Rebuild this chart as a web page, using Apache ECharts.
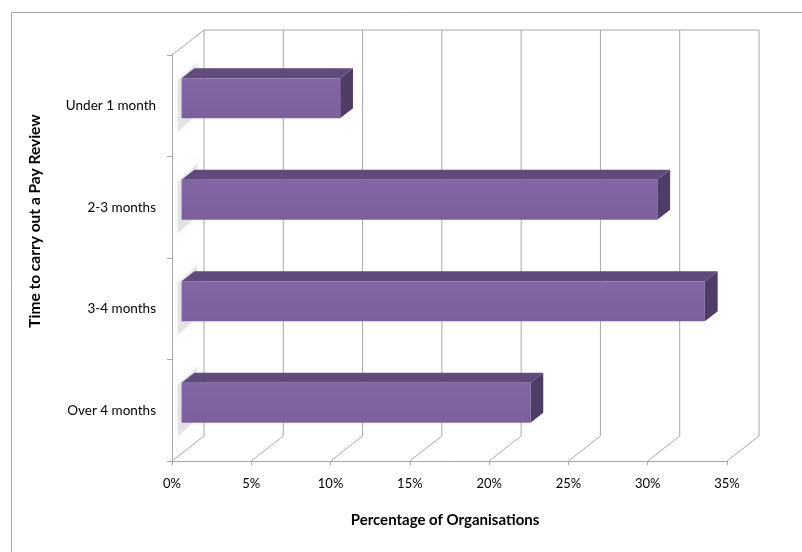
<!DOCTYPE html>
<html>
<head>
<meta charset="utf-8">
<script src="https://cdn.jsdelivr.net/npm/echarts@6/dist/echarts.min.js"></script>
<style>
html,body{margin:0;padding:0;background:#fff;}
#chart{width:802px;height:552px;}
</style>
</head>
<body>
<div id="chart"></div>
<script>
var categories = ['Under 1 month', '2-3 months', '3-4 months', 'Over 4 months'];
var values = [10, 30, 33, 22];
var xTicks = [0, 5, 10, 15, 20, 25, 30, 35];
var xTitle = 'Percentage of Organisations';
var yTitle = 'Time to carry out a Pay Review';

var DX = 32, DY = -25;           // floor depth offset
var BF = 0.3, BB = 0.7;          // bar front/back depth fraction
var BAR_H = 40;
var FONT = 'Lato, "Open Sans", sans-serif';
var GRID_C = '#a8a8a8';

var chart = echarts.init(document.getElementById('chart'), null, {renderer: 'canvas'});

function frameItem(params, api) {
  var cs = params.coordSys;
  var v = api.value(0);
  var xf = api.coord([v, 0])[0];
  var yb = cs.y + cs.height;
  var yt = cs.y;
  var children = [];
  var ls = {stroke: GRID_C, lineWidth: 1};
  children.push({type: 'line', shape: {x1: xf, y1: yb, x2: xf + DX, y2: yb + DY}, style: ls});
  children.push({type: 'line', shape: {x1: xf + DX, y1: yb + DY, x2: xf + DX, y2: yt + DY}, style: ls});
  if (v === xTicks[0]) {
    var xe = api.coord([xTicks[xTicks.length - 1], 0])[0];
    children.push({type: 'line', shape: {x1: xf, y1: yt, x2: xf + DX, y2: yt + DY}, style: ls});
    children.push({type: 'line', shape: {x1: xf + DX, y1: yt + DY, x2: xe + DX, y2: yt + DY}, style: ls});
  }
  return {type: 'group', children: children};
}

function barItem(params, api) {
  var cat = api.value(0);
  var v = api.value(1);
  var p0 = api.coord([0, cat]);
  var p1 = api.coord([v, cat]);
  var fx = DX * BF, fy = DY * BF;
  var bx = DX * (BB - BF), by = DY * (BB - BF);
  var x0 = p0[0] + fx, x1 = p1[0] + fx;
  var yc = p0[1] + fy;
  var yT = yc - BAR_H / 2, yB = yc + BAR_H / 2;
  return {
    type: 'group',
    children: [
      {type: 'polygon', shape: {points: [[x0 - 4, yT + 2], [x0 + bx + 3, yT + by - 6], [x0 + bx + 3, yB + by + 6], [x0 - 4, yB + 14]]},
        style: {fill: 'rgba(0,0,0,0.09)', shadowBlur: 10, shadowColor: 'rgba(0,0,0,0.3)'}},
      {type: 'polygon', shape: {points: [[x0, yT], [x1, yT], [x1 + bx, yT + by], [x0 + bx, yT + by]]},
        style: {fill: '#604b7c'}},
      {type: 'polygon', shape: {points: [[x1, yT], [x1 + bx, yT + by], [x1 + bx, yB + by], [x1, yB]]},
        style: {fill: '#4f3d67'}},
      {type: 'rect', shape: {x: x0, y: yT, width: x1 - x0, height: BAR_H},
        style: {fill: new echarts.graphic.LinearGradient(0, 0, 0, 1, [
          {offset: 0, color: '#8367a5'}, {offset: 1, color: '#7c609e'}])}}
    ]
  };
}

var option = {
  backgroundColor: '#ffffff',
  animation: false,
  grid: {left: 172, right: 75, top: 55, bottom: 91, containLabel: false},
  xAxis: {
    type: 'value', min: 0, max: 35, interval: 5,
    axisLine: {show: true, lineStyle: {color: GRID_C}},
    axisTick: {show: true, length: 4, lineStyle: {color: GRID_C}},
    splitLine: {show: false},
    axisLabel: {formatter: '{value}%', color: '#000', fontFamily: FONT, fontSize: 13, margin: 16}
  },
  yAxis: {
    type: 'category', data: categories, inverse: true,
    axisLine: {show: true, lineStyle: {color: GRID_C}},
    axisTick: {show: true, length: 5, lineStyle: {color: GRID_C}},
    axisLabel: {color: '#000', fontFamily: FONT, fontSize: 13.5, margin: 16}
  },
  graphic: [
    {type: 'rect', left: 9, top: 10, shape: {width: 1000, height: 1000}, style: {fill: 'none', stroke: '#a6a6a6', lineWidth: 1}, silent: true, z: -10},
    {type: 'text', x: 445, y: 520, style: {text: xTitle, font: 'bold 15px ' + FONT, fill: '#000', textAlign: 'center', textVerticalAlign: 'middle'}},
    {type: 'text', x: 35, y: 221, rotation: Math.PI / 2, style: {text: yTitle, font: 'bold 15.5px ' + FONT, fill: '#000', textAlign: 'center', textVerticalAlign: 'middle'}}
  ],
  series: [
    {type: 'custom', renderItem: frameItem, data: xTicks.map(function (t) { return [t]; }), clip: false, z: 1, silent: true},
    {type: 'custom', renderItem: barItem, data: values.map(function (v, i) { return [i, v]; }), encode: {x: 1, y: 0}, clip: false, z: 3}
  ]
};
chart.setOption(option);
</script>
</body>
</html>
